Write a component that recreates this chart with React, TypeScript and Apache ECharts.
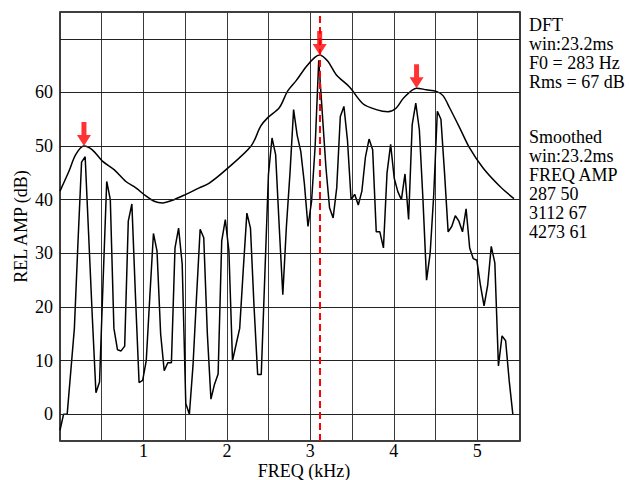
import React, { useEffect, useRef } from "react";
import * as echarts from "echarts";

// DFT bin spacing (11025 Hz sample rate, 256-point window) in kHz
const binKHz = 11.025 / 256;

// DFT magnitude per bin (dB), bins 0..126
const dftDb = [
  -3, 0, 0, 8, 16, 32, 47, 48, 33, 18,
  4, 6, 25, 43.4, 40, 16, 12, 11.8, 12.7, 36,
  39.2, 22, 5.9, 6.3, 10, 22, 33.7, 30.4, 15, 8.1,
  9.6, 9.6, 31, 34.7, 28, 2, 0, 9, 22, 34.5,
  32.9, 15, 2.8, 5.6, 7.5, 32.3, 36.3, 30.4, 10, 13,
  16, 27, 37.5, 34.7, 20, 7.4, 7.4, 26, 44.7, 51.5,
  48.4, 35, 22.3, 35, 45, 56.8, 52, 49, 43, 35,
  39.7, 50, 66, 56, 46, 38.5, 36.6, 42.2, 55.5, 57.4,
  51, 40, 41, 39, 41.6, 48, 51.3, 49.3, 34, 34,
  31, 45, 50.3, 44, 41.5, 40, 44.8, 36.3, 54, 58,
  53, 40, 25, 30, 41, 56.5, 55, 45, 34, 35,
  37, 36, 34, 38.3, 31, 29, 28.7, 24, 20.2, 24,
  31.3, 28.2, 9, 14.6, 13.7, 6.2, 0,
];

// Smoothed spectrum envelope
const envFreqKHz = [
  0, 0.107, 0.188, 0.287, 0.387, 0.508, 0.648, 0.789, 0.909, 1.029,
  1.129, 1.228, 1.348, 1.509, 1.669, 1.789, 1.99, 2.29, 2.405, 2.49,
  2.63, 2.726, 2.83, 2.95, 3.05, 3.112, 3.21, 3.31, 3.47, 3.63,
  3.79, 3.93, 4.03, 4.12, 4.273, 4.39, 4.51, 4.59, 4.67, 4.79,
  4.91, 5.07, 5.27, 5.44,
];
const envDb = [
  41.6, 45.3, 48.4, 50, 49.3, 47.2, 45.6, 43.4, 42.2, 40.7,
  39.7, 39.4, 39.9, 41, 42.2, 43.1, 45.6, 50, 53.7, 55.3,
  57.2, 60.2, 62.2, 64.8, 66.5, 67, 65.8, 63.3, 61, 57.9,
  56.8, 56.4, 57.1, 59, 60.8, 60.5, 60.2, 59.4, 57.1, 53.4,
  49.6, 45.9, 42.5, 40.2,
];

// Formant peaks (red arrows)
const peakFreqKHz = [0.287, 3.112, 4.273];
const peakDb = [50, 67, 60.8];

const f0MarkKHz = 3.112;
const xTickLabels = [1, 2, 3, 4, 5];
const yTickLabels = [0, 10, 20, 30, 40, 50, 60];
const yGridLines = [0, 10, 20, 30, 40, 50, 60, 70];

const infoTop = ["DFT", "win:23.2ms", "F0 = 283 Hz", "Rms = 67 dB"];
const infoBottom = ["Smoothed", "win:23.2ms", "FREQ AMP", "287 50", "3112 67", "4273 61"];

const FONT = '"Liberation Serif", "Times New Roman", serif';
const ARROW = "path://M4.5,0 L9.5,0 L9.5,13 L14,13 L7,24 L0,13 L4.5,13 Z";

export default function App() {
  const ref = useRef<HTMLDivElement>(null);

  useEffect(() => {
    document.body.style.margin = "0";
    if (!ref.current) return;
    const chart = echarts.init(ref.current, undefined, { renderer: "svg" });

    const dftData = dftDb.map((v, i) => [i * binKHz, v]);
    const envData = envFreqKHz.map((f, i) => [f, envDb[i]]);
    const peakData = peakFreqKHz.map((f, i) => [f, peakDb[i]]);

    const graphics: any[] = [];
    infoTop.forEach((t, i) => {
      graphics.push({
        type: "text",
        x: 529,
        y: 25 + i * 19,
        style: { text: t, fill: "#000", font: `18px ${FONT}`, verticalAlign: "middle" },
      });
    });
    infoBottom.forEach((t, i) => {
      graphics.push({
        type: "text",
        x: 529,
        y: 137 + i * 19,
        style: { text: t, fill: "#000", font: `18px ${FONT}`, verticalAlign: "middle" },
      });
    });

    chart.setOption({
      animation: false,
      textStyle: { fontFamily: FONT },
      grid: {
        left: 60,
        top: 12,
        right: 109,
        bottom: 39,
        show: true,
        borderColor: "#000",
        borderWidth: 1.5,
        backgroundColor: "transparent",
        outerBoundsMode: "none",
        containLabel: false,
      },
      xAxis: {
        type: "value",
        min: 0,
        max: 5.5125,
        interval: 0.5,
        name: "FREQ (kHz)",
        nameLocation: "middle",
        nameGap: 23,
        nameMoveOverlap: false,
        nameTextStyle: {
          fontSize: 18,
          lineHeight: 14,
          color: "#000",
          fontFamily: FONT,
          padding: [0, 0, 0, 28],
        },
        axisLine: { show: false },
        axisTick: { show: false },
        axisLabel: {
          fontSize: 18,
          lineHeight: 14,
          color: "#000",
          fontFamily: FONT,
          margin: 3,
          showMinLabel: false,
          showMaxLabel: false,
          formatter: (v: number) => (xTickLabels.includes(Math.round(v * 1000) / 1000) ? String(v) : ""),
        },
        splitLine: { show: true, lineStyle: { color: "#3a3a3a", width: 1 } },
      },
      yAxis: {
        type: "value",
        min: -5,
        max: 75,
        interval: 5,
        name: "REL AMP (dB)",
        nameLocation: "middle",
        nameGap: 30,
        nameMoveOverlap: false,
        nameTextStyle: { fontSize: 18, color: "#000", fontFamily: FONT },
        axisLine: { show: false },
        axisTick: { show: false },
        axisLabel: {
          fontSize: 18,
          color: "#000",
          fontFamily: FONT,
          margin: 7,
          formatter: (v: number) => (yTickLabels.includes(v) ? String(v) : ""),
        },
        splitLine: { show: false },
      },
      series: [
        {
          type: "line",
          data: dftData,
          symbol: "none",
          lineStyle: { color: "#000", width: 1.5 },
          z: 3,
          markLine: {
            silent: true,
            symbol: ["none", "none"],
            label: { show: false },
            data: [
              ...yGridLines.map((v) => ({
                yAxis: v,
                lineStyle: { color: "#222", width: 1, type: "solid" },
              })),
            ],
          },
        },
        {
          type: "line",
          data: envData,
          symbol: "none",
          smooth: 0.3,
          lineStyle: { color: "#000", width: 1.5 },
          z: 4,
          markLine: {
            silent: true,
            symbol: ["none", "none"],
            label: { show: false },
            data: [
              {
                xAxis: f0MarkKHz,
                lineStyle: { color: "#ff0000", width: 2, type: [7, 4] },
              },
            ],
          },
        },
        {
          type: "scatter",
          data: peakData,
          symbol: ARROW,
          symbolSize: [14, 24],
          symbolOffset: [0, "-50%"],
          itemStyle: { color: "#ff0000" },
          z: 6,
          silent: true,
        },
      ],
      graphic: graphics,
    });

    return () => chart.dispose();
  }, []);

  return <div ref={ref} style={{ width: 629, height: 480 }} />;
}
